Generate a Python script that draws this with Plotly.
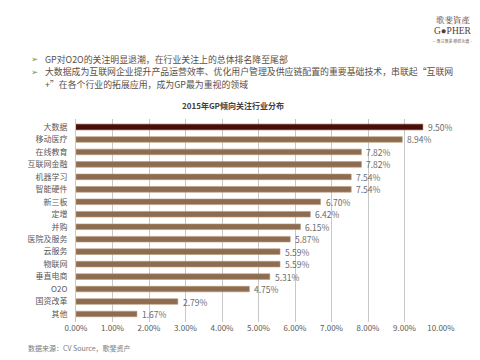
import plotly.graph_objects as go

categories = ["大数据", "移动医疗", "在线教育", "互联网金融", "机器学习", "智能硬件", "新三板", "定增",
              "并购", "医院及服务", "云服务", "物联网", "垂直电商", "O2O", "国资改革", "其他"]
values = [9.50, 8.94, 7.82, 7.82, 7.54, 7.54, 6.70, 6.42, 6.15, 5.87, 5.59, 5.59, 5.31, 4.75, 2.79, 1.67]
tick_vals = [0, 1, 2, 3, 4, 5, 6, 7, 8, 9, 10]
tick_text = ["0.00%", "1.00%", "2.00%", "3.00%", "4.00%", "5.00%", "6.00%", "7.00%", "8.00%", "9.00%", "10.00%"]

W, H = 480, 360
L, R, T, B = 68, 47, 111, 46
PW, PH = W - L - R, H - T - B

def px(x):
    return (x - L) / PW

def py(y):
    return (H - B - y) / PH

FONT = "Noto Sans CJK SC"
colors = ["#4A0E07"] + ["#8E6C4F"] * (len(categories) - 1)
line_colors = ["#6a2a20"] + ["#b89a7c"] * (len(categories) - 1)

fig = go.Figure()
fig.add_trace(go.Bar(
    x=values, y=categories, orientation="h",
    marker=dict(color=colors, line=dict(width=0.6, color=line_colors)),
    cliponaxis=False,
))

ann = []
# value labels, anchored at each bar's end
for c, v in zip(categories, values):
    ann.append(dict(x=v, y=c, xref="x", yref="y", text=f"{v:.2f}%", showarrow=False,
                    xanchor="left", yanchor="middle", xshift=3,
                    font=dict(family=FONT, size=8.5, color="#6b6b6b")))

bullet_lines = [
    (51.5, "GP对O2O的关注明显退潮，在行业关注上的总体排名降至尾部", True),
    (64, "大数据成为互联网企业提升产品运营效率、优化用户管理及供应链配置的重要基础技术，串联起“互联网", True),
    (76.5, "+”在各个行业的拓展应用，成为GP最为重视的领域", False),
]
for y, t, arrow in bullet_lines:
    if arrow:
        ann.append(dict(x=px(21), y=py(y), xref="paper", yref="paper", text="➢", showarrow=False,
                        xanchor="left", yanchor="middle",
                        font=dict(family="DejaVu Sans", size=8.5, color="#7a9468")))
    ann.append(dict(x=px(35), y=py(y), xref="paper", yref="paper", text=t,
                    showarrow=False, xanchor="left", yanchor="middle",
                    font=dict(family=FONT, size=8.9, color="#5a4f48")))
# chart title
ann.append(dict(x=px(225), y=py(97), xref="paper", yref="paper", text="<b>2015年GP倾向关注行业分布</b>",
                showarrow=False, xanchor="center", yanchor="middle",
                font=dict(family=FONT, size=8, color="#404040")))
# source
ann.append(dict(x=px(18), y=py(340), xref="paper", yref="paper", text="数据来源：CV Source，歌斐资产",
                showarrow=False, xanchor="left", yanchor="middle",
                font=dict(family=FONT, size=7, color="#7a7a7a")))
# logo
ann.append(dict(x=px(445), y=py(10.5), xref="paper", yref="paper", text="歌斐資產",
                showarrow=False, xanchor="center", yanchor="middle",
                font=dict(family="Noto Serif CJK SC, Noto Sans CJK SC", size=8.5, color="#5b3a2c")))
ann.append(dict(x=px(445), y=py(23), xref="paper", yref="paper", text="G●PHER",
                showarrow=False, xanchor="center", yanchor="middle",
                font=dict(family="Liberation Serif", size=9.5, color="#5b3a2c")))
ann.append(dict(x=px(445), y=py(33), xref="paper", yref="paper", text="— 專注專業 穩健永續 —",
                showarrow=False, xanchor="center", yanchor="middle",
                font=dict(family=FONT, size=4, color="#8a7060")))

fig.update_layout(
    width=W, height=H,
    margin=dict(l=L, r=R, t=T, b=B, pad=0),
    paper_bgcolor="white", plot_bgcolor="white",
    showlegend=False,
    bargap=0.55,
    font=dict(family=FONT, size=8, color="#595959"),
    annotations=ann,
    xaxis=dict(range=[0, 10], tickvals=tick_vals, ticktext=tick_text,
               showgrid=True, gridcolor="#c8c8c8", gridwidth=1, zeroline=False,
               showline=False, ticks="", tickfont=dict(family=FONT, size=8, color="#595959"),
               fixedrange=True),
    yaxis=dict(autorange="reversed", showgrid=False, showline=True, linecolor="#c8c8c8",
               ticks="", ticklabelstandoff=6, tickfont=dict(family=FONT, size=8, color="#595959"),
               fixedrange=True),
)

fig.write_html("out.html")
